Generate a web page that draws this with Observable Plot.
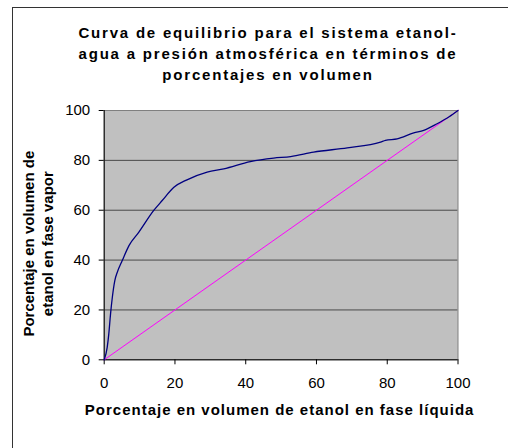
<!DOCTYPE html>
<html>
<head>
<meta charset="utf-8">
<script src="https://cdn.jsdelivr.net/npm/d3@7"></script>
<script src="https://cdn.jsdelivr.net/npm/@observablehq/plot@0.6"></script>
<style>
  html, body { margin: 0; padding: 0; background: #fff; }
  #wrap { position: relative; width: 508px; height: 448px; overflow: hidden; font-family: "Liberation Sans", Arial, sans-serif; }
  #frame { position: absolute; left: 12px; top: 7px; width: 700px; height: 700px; border-left: 1px solid #333; border-top: 1px solid #333; box-sizing: border-box; }
  #title { position: relative; margin-left: 12px; width: 512px; height: 90px; box-sizing: border-box; padding-top: 22px; text-align: center; font-weight: bold; font-size: 15px; line-height: 21px; letter-spacing: 1.8px; color: #000; white-space: nowrap; }
  #chart { position: relative; }
</style>
</head>
<body>
<div id="wrap">
  <div id="frame"></div>
  <div id="title"></div>
  <div id="chart"></div>
</div>
<script>
const titleLines = [
  "Curva de equilibrio para el sistema etanol-",
  "agua a presión atmosférica en términos de",
  "porcentajes en volumen"
];
const xTitle = "Porcentaje en volumen de etanol en fase líquida";
const yTitle = "Porcentaje en volumen de\netanol en fase vapor";
const xTicks = [0, 20, 40, 60, 80, 100];
const yTicks = [0, 20, 40, 60, 80, 100];
const gridTicks = [20, 40, 60, 80];

// equilibrium curve: % ethanol (vol) in liquid vs vapor
const liquid = [0, 0.85, 1.3, 1.8, 2.3, 3.0, 3.7, 5.1, 7.0, 9.8, 14.0, 16.4, 19.7, 23.4, 29.1, 33.8, 41.3, 47.9, 52.7, 59.2, 68.7, 78.1, 79.5, 82.8, 87.5, 90.3, 94.1, 97.5, 100];
const vapor  = [0, 5.0, 10.4, 18.5, 25.1, 31.8, 35.1, 39.8, 45.8, 51.2, 59.9, 63.9, 69.2, 72.2, 75.3, 76.6, 79.5, 80.9, 81.5, 83.3, 85.0, 87.3, 88.0, 88.6, 91.0, 92.0, 94.7, 97.5, 100];
// diagonal y = x
const diagX = [0, 100];
const diagY = [0, 100];

document.getElementById("title").innerHTML = titleLines.join("<br>");

const curve = liquid.map((x, i) => ({x, y: vapor[i]}));
const diag = diagX.map((x, i) => ({x, y: diagY[i]}));

const plot = Plot.plot({
  width: 508,
  height: 358,
  marginLeft: 103.7,
  marginRight: 50.5,
  marginTop: 20,
  marginBottom: 88.7,
  style: { fontFamily: "Liberation Sans, Arial, sans-serif", fontSize: "15px", color: "#000", background: "transparent", overflow: "visible" },
  x: { domain: [0, 100], label: null },
  y: { domain: [0, 100], label: null },
  marks: [
    Plot.frame({ fill: "#c0c0c0", stroke: null }),
    Plot.gridY(gridTicks, { stroke: "#4a4a4a", strokeOpacity: 1, strokeWidth: 1 }),
    Plot.frame({ stroke: "#808080", strokeWidth: 1 }),
    Plot.ruleX([0], { stroke: "#000" }),
    Plot.ruleY([0], { stroke: "#000" }),
    Plot.axisX(xTicks, { tickSize: 5, tickPadding: 13, stroke: "#000", fill: "#000" }),
    Plot.axisY(yTicks, { tickSize: 5, tickPadding: 9, stroke: "#000", fill: "#000" }),
    Plot.line(diag, { x: "x", y: "y", stroke: "#ff00ff", strokeWidth: 1 }),
    Plot.line(curve, { x: "x", y: "y", stroke: "#000080", strokeWidth: 1.3, curve: "monotone-x" }),
    Plot.text([xTitle], { frameAnchor: "bottom", dx: -1.5, dy: 50.7, text: d => d, textAnchor: "middle", lineAnchor: "middle", fontWeight: "bold", fontSize: 15, fill: "#000" }),
    Plot.text([yTitle], { frameAnchor: "left", dx: -66.5, dy: 8.5, rotate: -90, text: d => d, textAnchor: "middle", lineAnchor: "middle", fontWeight: "bold", fontSize: 15, lineHeight: 1.27, fill: "#000" })
  ]
});
d3.select(plot).selectAll("text").filter(function() { return this.textContent === xTitle; }).style("letter-spacing", "1px");
document.getElementById("chart").appendChild(plot);
</script>
</body>
</html>
